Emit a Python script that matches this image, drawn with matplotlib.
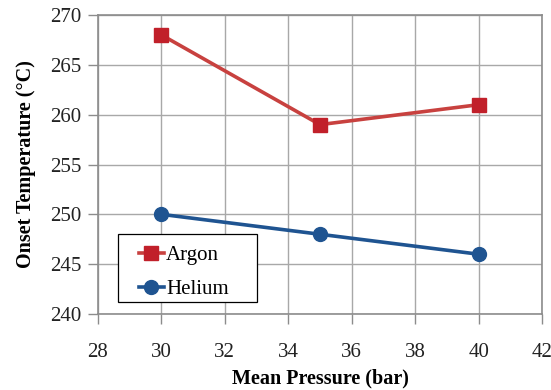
import matplotlib
matplotlib.use("Agg")
import matplotlib.pyplot as plt
from matplotlib.patches import Rectangle

pressure = [30, 35, 40]
argon = [268, 259, 261]
helium = [250, 248, 246]
x_ticks = [28, 30, 32, 34, 36, 38, 40, 42]
y_ticks = [240, 245, 250, 255, 260, 265, 270]

plt.rcParams['font.family'] = ['Liberation Serif', 'DejaVu Serif']

fig = plt.figure(figsize=(5.51, 3.90), dpi=100)
ax = fig.add_axes([98 / 551, (390 - 314) / 390, 444 / 551, 299 / 390])

ax.plot(pressure, argon, color='#C8413F', lw=2.6, marker='s', ms=10,
        mfc='#C1202A', mec='#C1202A', label='Argon', zorder=3)
ax.plot(pressure, helium, color='#1F5491', lw=2.6, marker='o', ms=10,
        mfc='#1F5491', mec='#1F5491', label='Helium', zorder=3)

ax.set_xlim(28, 42)
ax.set_ylim(240, 270)
ax.set_xticks(x_ticks)
ax.set_yticks(y_ticks)
ax.grid(True, color='#A8A8A8', lw=1.0)
ax.set_axisbelow(True)
for s in ax.spines.values():
    s.set_color('#8C8C8C')
    s.set_linewidth(1.2)
ax.tick_params(axis='both', which='major', labelsize=15, color='#8C8C8C',
               length=7, width=1.0, direction='out', labelcolor='#222222')
ax.tick_params(axis='x', pad=14)
ax.tick_params(axis='y', pad=5)

ax.set_xlabel('Mean Pressure (bar)', fontsize=14.5, fontweight='bold', labelpad=4.5)
ax.set_ylabel('Onset Temperature (°C)', fontsize=14.5, fontweight='bold', labelpad=10)

# legend frame drawn as a plain rectangle, entries laid out without a frame
ax.add_patch(Rectangle((0.045, 0.040), 0.313, 0.228, transform=ax.transAxes,
                       facecolor='white', edgecolor='black', lw=0.9, zorder=4))
leg = ax.legend(loc='upper left', bbox_to_anchor=(0.092, 0.23), fontsize=15,
                frameon=False, handlelength=1.2, handletextpad=0.1,
                borderpad=0, labelspacing=0.7, borderaxespad=0)
leg.set_zorder(5)

fig.savefig('out.png', dpi=100)
